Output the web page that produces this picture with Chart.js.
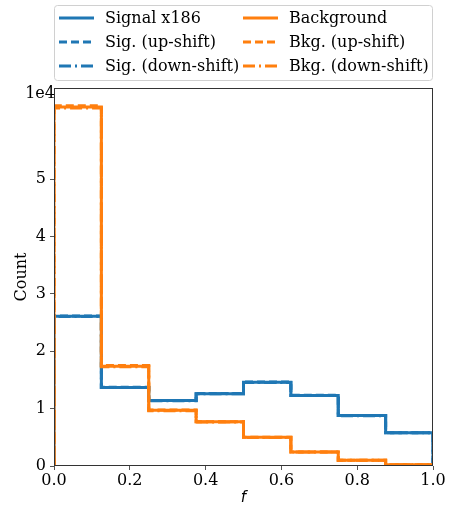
<!DOCTYPE html>
<html><head><meta charset="utf-8">
<script src="https://cdn.jsdelivr.net/npm/chart.js@4"></script>
<style>html,body{margin:0;padding:0;background:#fff}#wrap{width:449px;height:507px}</style>
</head><body><div id="wrap"><canvas id="c" width="449" height="507"></canvas></div>
<script>
const binEdges = [0, 0.125, 0.25, 0.375, 0.5, 0.625, 0.75, 0.875, 1.0];
const signalNominal = [26100, 13700, 11400, 12600, 14600, 12300, 8800, 5800];
const signalUp      = [26150, 13720, 11420, 12620, 14640, 12330, 8820, 5810];
const signalDown    = [26050, 13680, 11380, 12580, 14560, 12270, 8780, 5790];
const bkgNominal    = [62600, 17400, 9700, 7700, 5000, 2450, 1000, 200];
const bkgUp         = [62800, 17500, 9750, 7730, 5020, 2460, 1005, 202];
const bkgDown       = [62400, 17300, 9650, 7670, 4980, 2440, 995, 198];
const yTickValues = [0, 10000, 20000, 30000, 40000, 50000];
const xTickValues = [0, 0.2, 0.4, 0.6, 0.8, 1.0];
const labels = ['Signal x186','Sig. (up-shift)','Sig. (down-shift)','Background','Bkg. (up-shift)','Bkg. (down-shift)'];

const BLUE = '#1f77b4', ORANGE = '#ff7f0e';
function steps(vals){
  const pts = [{x: binEdges[0], y: 0}];
  vals.forEach((v,i)=>pts.push({x: binEdges[i], y: v}));
  pts.push({x: binEdges[binEdges.length-1], y: vals[vals.length-1]});
  pts.push({x: binEdges[binEdges.length-1], y: 0});
  return pts;
}
const dashes = [[], [8,4], [12,4,2,4]];
const series = [
  [signalNominal, BLUE, 0], [signalUp, BLUE, 1], [signalDown, BLUE, 2],
  [bkgNominal, ORANGE, 0], [bkgUp, ORANGE, 1], [bkgDown, ORANGE, 2]
];
const datasets = series.map((s,i)=>({
  label: labels[i], data: steps(s[0]), borderColor: s[1], backgroundColor: s[1],
  borderWidth: 3, borderDash: dashes[s[2]], stepped: 'before', pointRadius: 0,
  fill: false, order: 10 - i, borderCapStyle: 'butt', borderJoinStyle: 'miter'
}));

const SERIF = '"DejaVu Serif", serif';
const legendPlugin = {
  id: 'customLegend',
  afterDraw(chart){
    const ctx = chart.ctx;
    ctx.save();
    const bx = 54.5, by = 5.5, bw = 378, bh = 75;
    ctx.beginPath();
    const r = 3;
    ctx.moveTo(bx+r, by); ctx.lineTo(bx+bw-r, by); ctx.quadraticCurveTo(bx+bw, by, bx+bw, by+r);
    ctx.lineTo(bx+bw, by+bh-r); ctx.quadraticCurveTo(bx+bw, by+bh, bx+bw-r, by+bh);
    ctx.lineTo(bx+r, by+bh); ctx.quadraticCurveTo(bx, by+bh, bx, by+bh-r);
    ctx.lineTo(bx, by+r); ctx.quadraticCurveTo(bx, by, bx+r, by);
    ctx.fillStyle = 'rgba(255,255,255,0.8)'; ctx.fill();
    ctx.strokeStyle = '#d0d0d0'; ctx.lineWidth = 1; ctx.stroke();
    const cols = [{lx: 59, tx: 105}, {lx: 243, tx: 289}];
    const rows = [18, 42, 66];
    ctx.font = '16px ' + SERIF;
    ctx.textBaseline = 'middle';
    chart.data.datasets.forEach((ds, i)=>{
      const c = cols[Math.floor(i/3)], y = rows[i%3];
      ctx.beginPath();
      ctx.setLineDash(ds.borderDash);
      ctx.strokeStyle = ds.borderColor; ctx.lineWidth = 3;
      ctx.moveTo(c.lx, y); ctx.lineTo(c.lx + 35, y); ctx.stroke();
      ctx.setLineDash([]);
      ctx.fillStyle = '#000';
      ctx.fillText(ds.label, c.tx, y + 1);
    });
    ctx.font = '16px ' + SERIF;
    ctx.textAlign = 'right'; ctx.textBaseline = 'middle';
    ctx.fillText('1e4', 55, 94);
    const a = chart.chartArea;
    ctx.strokeStyle = '#333'; ctx.lineWidth = 1;
    ctx.strokeRect(Math.round(a.left)+0.5, Math.round(a.top)+0.5, Math.round(a.right-a.left)-1, Math.round(a.bottom-a.top)-1);
    ctx.restore();
  }
};

const tickGrid = { display: true, drawOnChartArea: false, drawTicks: true, tickLength: 4, tickColor: '#555', tickWidth: 1 };

new Chart(document.getElementById('c'), {
  type: 'line',
  data: { datasets },
  plugins: [legendPlugin],
  options: {
    responsive: false, animation: false, devicePixelRatio: 1,
    layout: { padding: { top: 88, right: 16, bottom: 0, left: 0 } },
    plugins: { legend: { display: false }, tooltip: { enabled: false } },
    scales: {
      x: {
        type: 'linear', min: 0, max: 1,
        afterBuildTicks: s => { s.ticks = xTickValues.map(v=>({value: v})); },
        afterFit: s => { s.height = 41; },
        grid: tickGrid,
        border: { display: false },
        ticks: { font: { family: SERIF, size: 16 }, color: '#000', padding: 1, maxRotation: 0,
                 callback: v => v.toFixed(1) },
        title: { display: true, text: 'f', font: { family: '"DejaVu Sans", sans-serif', size: 15, style: 'italic' }, color: '#000', padding: { top: 0, bottom: 0 } }
      },
      y: {
        type: 'linear', min: 0, max: 65900,
        afterBuildTicks: s => { s.ticks = yTickValues.map(v=>({value: v})); },
        afterFit: s => { s.width = 54; },
        grid: tickGrid,
        border: { display: false },
        ticks: { font: { family: SERIF, size: 16 }, color: '#000', padding: 4,
                 callback: v => String(Math.round(v/10000)) },
        title: { display: true, text: 'Count', font: { family: SERIF, size: 16 }, color: '#000', padding: { top: 12, bottom: 0 } }
      }
    }
  }
});
</script></body></html>
